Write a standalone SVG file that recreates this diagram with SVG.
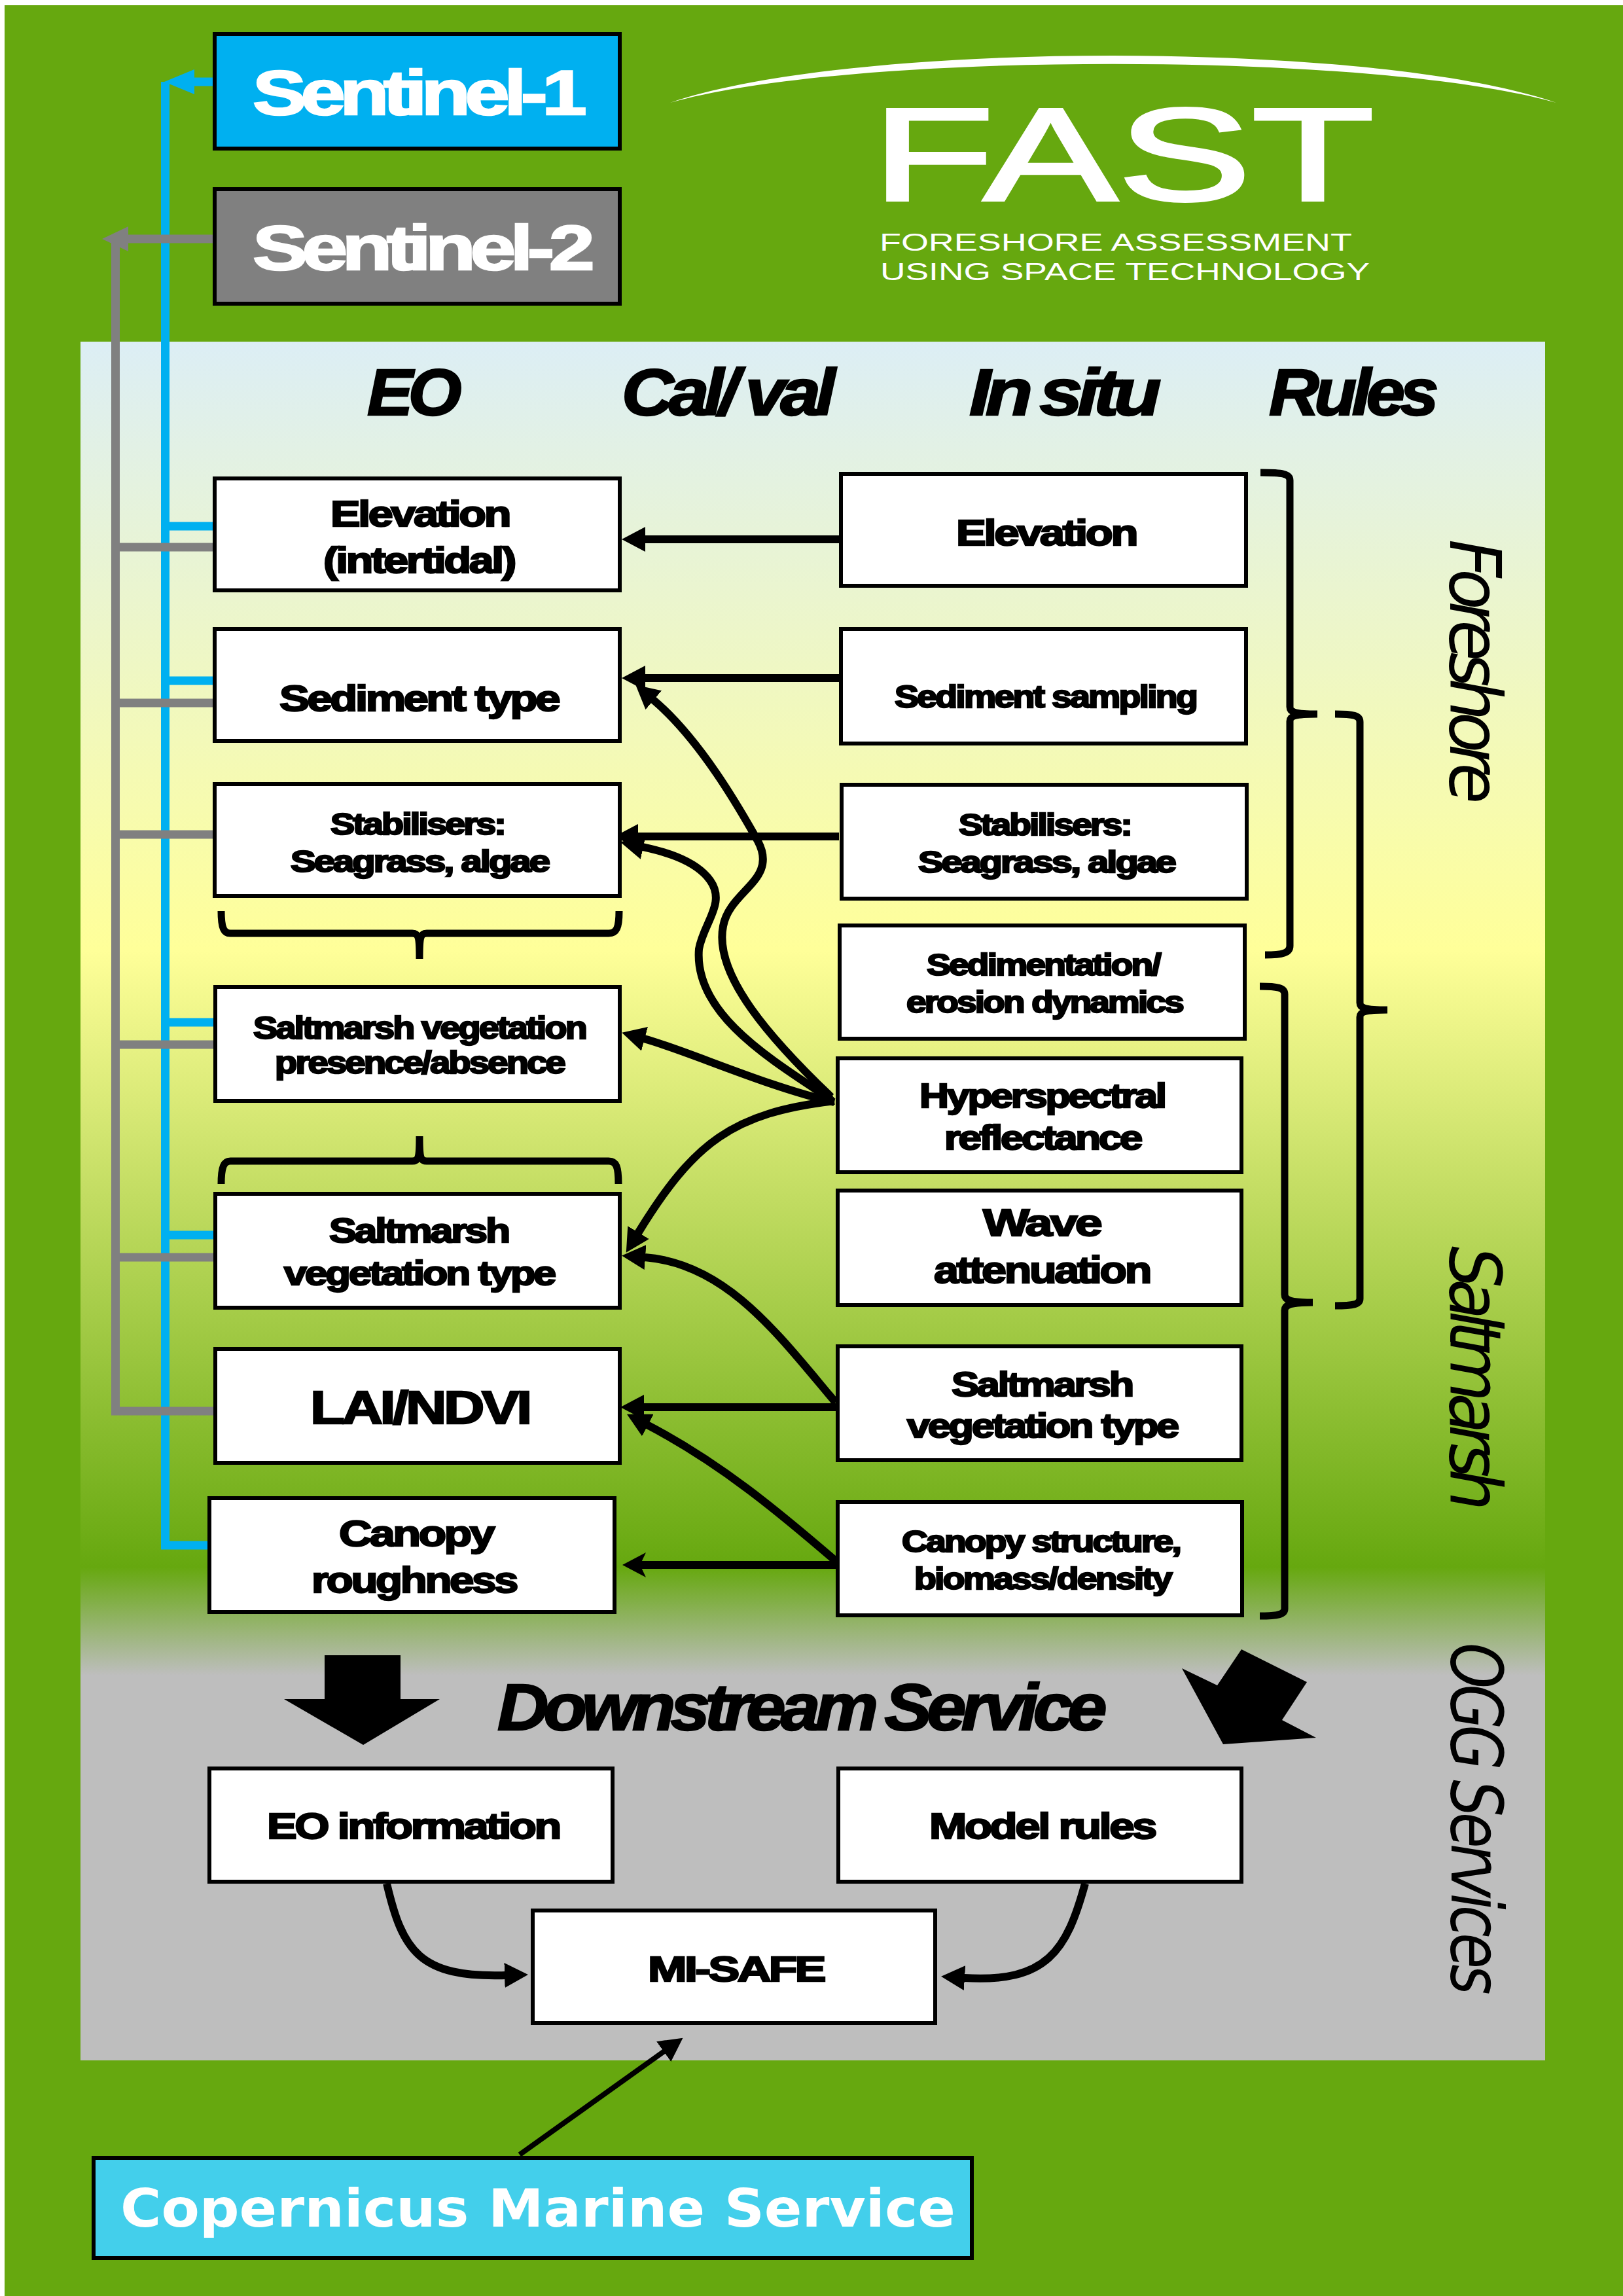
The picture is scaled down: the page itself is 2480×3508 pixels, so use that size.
<svg xmlns="http://www.w3.org/2000/svg" width="2480" height="3508" viewBox="0 0 2480 3508">
<style>
.box{fill:#fff;stroke:#000;stroke-width:6}
text{font-family:"Liberation Sans",Arial,sans-serif;font-weight:700;fill:#000}
.heavy{stroke:#000;stroke-width:2.4;letter-spacing:-0.05em}
.hdr{font-size:100px;font-style:italic;stroke:#000;stroke-width:2.5;letter-spacing:-0.07em;word-spacing:-0.05em}
.white{fill:#fff;stroke:#fff;stroke-width:2.5;letter-spacing:-0.07em}
.side{font-family:"DejaVu Sans",sans-serif;font-weight:400;font-size:108px;font-style:italic}
.arrow{fill:none;stroke:#000;stroke-width:12}
.blue{fill:none;stroke:#00b0f0;stroke-width:13}
.gray{fill:none;stroke:#808080;stroke-width:13}
.brace{fill:none;stroke:#000;stroke-width:11}
.logo{font-weight:400;fill:#fff}
</style>
<defs>
<linearGradient id="panelFill" gradientUnits="userSpaceOnUse" x1="0" y1="522" x2="0" y2="3148">
<stop offset="0" stop-color="#dceef5"/>
<stop offset="0.354" stop-color="#ffff99"/>
<stop offset="0.713" stop-color="#66a80f"/>
<stop offset="0.776" stop-color="#bebebe"/>
<stop offset="1" stop-color="#bebebe"/>
</linearGradient>
<marker id="head" markerUnits="userSpaceOnUse" markerWidth="36" markerHeight="38" viewBox="0 -19 36 38" refX="1" refY="0" orient="auto"><path d="M0,-19L36,0L0,19z"/></marker>
<marker id="headC" markerUnits="userSpaceOnUse" markerWidth="36" markerHeight="38" viewBox="0 -19 36 38" refX="9" refY="0" orient="auto"><path d="M0,-19L36,0L0,19L9,0z"/></marker>
<marker id="headB" markerUnits="userSpaceOnUse" markerWidth="46" markerHeight="38" viewBox="0 -19 46 38" refX="1" refY="0" orient="auto"><path d="M0,-19L46,0L0,19z" fill="#00b0f0"/></marker>
<marker id="headG" markerUnits="userSpaceOnUse" markerWidth="40" markerHeight="38" viewBox="0 -19 40 38" refX="1" refY="0" orient="auto"><path d="M0,-19L40,0L0,19z" fill="#808080"/></marker>
</defs>
<rect id="background" x="7" y="8" width="2473" height="3500" fill="#66a80f"/>
<rect id="panel" x="123" y="522" width="2238" height="2626" fill="url(#panelFill)"/>

<g id="logo">
<path d="M1024,157C1300,61 2100,61 2378,157C2100,78 1300,78 1024,157z" fill="#fff"/>
<text class="logo" x="1332" y="306" font-size="202" textLength="768" lengthAdjust="spacingAndGlyphs" style="stroke:#fff;stroke-width:4">FAST</text>
<text class="logo" x="1344" y="383" font-size="36" textLength="722" lengthAdjust="spacingAndGlyphs">FORESHORE ASSESSMENT</text>
<text class="logo" x="1345" y="428" font-size="36" textLength="748" lengthAdjust="spacingAndGlyphs">USING SPACE TECHNOLOGY</text>
</g>

<g id="headers">
<text class="hdr" x="561" y="634" textLength="137" lengthAdjust="spacingAndGlyphs">EO</text>
<text class="hdr" x="950" y="634" textLength="319" lengthAdjust="spacingAndGlyphs">Cal/ val</text>
<text class="hdr" x="1481" y="634" textLength="285" lengthAdjust="spacingAndGlyphs">In situ</text>
<text class="hdr" x="1939" y="634" textLength="252" lengthAdjust="spacingAndGlyphs">Rules</text>
<text class="hdr" x="760" y="2643" font-size="95" textLength="924" lengthAdjust="spacingAndGlyphs">Downstream Service</text>
</g>

<g id="connectors">
<path class="blue" d="M252.500,2361V125"/>
<path class="blue" d="M325,125H296" marker-end="url(#headB)"/>
<path class="blue" d="M258,804H326M258,1040H326M258,1562H326M258,1887H326M246,2361H317"/>
<path class="gray" d="M176.500,2162V370"/>
<path class="gray" d="M325,365H195" marker-end="url(#headG)"/>
<path class="gray" d="M170,836H326M170,1074H326M170,1275H326M170,1596H326M170,1921H326M170,2156H326"/>
<path class="arrow" d="M1282,824H985" marker-end="url(#head)"/>
<path class="arrow" d="M1282,1036H985" marker-end="url(#head)"/>
<path class="arrow" d="M1282,1278H974" marker-end="url(#head)"/>
<path class="arrow" d="M1270,1676C1180,1590 1090,1490 1105,1415C1115,1360 1190,1345 1158,1285C1130,1235 1070,1130 998,1069" marker-end="url(#head)"/>
<path class="arrow" d="M1270,1680C1180,1620 1060,1550 1068,1450C1075,1410 1110,1380 1085,1345C1060,1310 1000,1298 982,1294" marker-end="url(#head)"/>
<path class="arrow" d="M1275,1684C1170,1660 1050,1605 984,1587" marker-end="url(#head)"/>
<path class="arrow" d="M1275,1682C1120,1700 1060,1745 975,1884" marker-end="url(#head)"/>
<path class="arrow" d="M1277,2143C1190,2040 1110,1930 985,1921" marker-end="url(#head)"/>
<path class="arrow" d="M1277,2150H983" marker-end="url(#head)"/>
<path class="arrow" d="M1277,2385C1190,2310 1100,2235 989,2177" marker-end="url(#head)"/>
<path class="arrow" d="M1277,2391H978" marker-end="url(#headC)"/>
<path class="arrow" d="M591,2878C615,2980 640,3022 772,3018" marker-end="url(#head)"/>
<path class="arrow" d="M1658,2878C1630,2980 1600,3030 1473,3022" marker-end="url(#head)"/>
<path class="arrow" style="stroke-width:8" d="M794,3292L1015,3134" marker-end="url(#head)"/>
<path class="brace" d="M338,1392C338,1418 342,1426 352,1426H630C640,1426 641,1432 641,1465C641,1432 642,1426 652,1426H930C942,1426 946,1418 946,1392"/>
<path class="brace" d="M338,1809C338,1783 342,1774 352,1774H630C640,1774 641,1768 641,1736C641,1768 642,1774 652,1774H930C942,1774 945,1783 945,1809"/>
<path class="brace" d="M1926,722C1960,722 1971,724 1971,734V1080C1971,1088 1978,1091 2013,1091C1978,1091 1971,1094 1971,1102V1445C1971,1456 1960,1459 1933,1459"/>
<path class="brace" d="M1925,1507C1952,1507 1963,1509 1963,1519V1978C1963,1986 1970,1990 2006,1990C1970,1990 1963,1994 1963,2002V2458C1963,2467 1952,2469 1925,2469"/>
<path class="brace" d="M2040,1091C2068,1091 2078,1093 2078,1103V1532C2078,1540 2085,1543 2120,1543C2085,1543 2078,1546 2078,1554V1984C2078,1993 2068,1995 2040,1995"/>
<path d="M496,2529H612V2596H672L555,2666L434,2596H496z"/>
<path d="M1897,2520L1997,2570L1959,2628L2011,2655L1869,2665L1806,2549L1860,2575z"/>
</g>

<g id="sentinel-1"><rect x="328" y="52" width="619" height="175" fill="#00b0f0" stroke="#000" stroke-width="6"/><text class="white" x="386" y="175" font-size="96" textLength="502" lengthAdjust="spacingAndGlyphs">Sentinel-1</text></g>
<g id="sentinel-2"><rect x="328" y="289" width="619" height="175" fill="#808080" stroke="#000" stroke-width="6"/><text class="white" x="386" y="412" font-size="96" textLength="514" lengthAdjust="spacingAndGlyphs">Sentinel-2</text></g>

<g id="eo-elevation"><rect class="box" x="328" y="731" width="619" height="171"/><text class="heavy" x="505" y="804" font-size="56" textLength="273" lengthAdjust="spacingAndGlyphs">Elevation</text><text class="heavy" x="494" y="875" font-size="56" textLength="292" lengthAdjust="spacingAndGlyphs">(intertidal)</text></g>
<g id="eo-sediment"><rect class="box" x="328" y="961" width="619" height="171"/><text class="heavy" x="427" y="1086" font-size="56" textLength="426" lengthAdjust="spacingAndGlyphs">Sediment type</text></g>
<g id="eo-stabilisers"><rect class="box" x="328" y="1198" width="619" height="171"/><text class="heavy" x="505" y="1275" font-size="46" textLength="266" lengthAdjust="spacingAndGlyphs">Stabilisers:</text><text class="heavy" x="444" y="1332" font-size="46" textLength="394" lengthAdjust="spacingAndGlyphs">Seagrass, algae</text></g>
<g id="eo-presence"><rect class="box" x="329" y="1508" width="618" height="174"/><text class="heavy" x="387" y="1587" font-size="48" textLength="508" lengthAdjust="spacingAndGlyphs">Saltmarsh vegetation</text><text class="heavy" x="420" y="1640" font-size="48" textLength="442" lengthAdjust="spacingAndGlyphs">presence/absence</text></g>
<g id="eo-type"><rect class="box" x="329" y="1824" width="618" height="174"/><text class="heavy" x="503" y="1898" font-size="52" textLength="274" lengthAdjust="spacingAndGlyphs">Saltmarsh</text><text class="heavy" x="434" y="1963" font-size="52" textLength="413" lengthAdjust="spacingAndGlyphs">vegetation type</text></g>
<g id="eo-lai"><rect class="box" x="329" y="2061" width="618" height="174"/><text class="heavy" x="474" y="2175" font-size="70" textLength="335" lengthAdjust="spacingAndGlyphs">LAI/NDVI</text></g>
<g id="eo-canopy"><rect class="box" x="320" y="2289" width="619" height="174"/><text class="heavy" x="518" y="2362" font-size="56" textLength="235" lengthAdjust="spacingAndGlyphs">Canopy</text><text class="heavy" x="476" y="2433" font-size="56" textLength="313" lengthAdjust="spacingAndGlyphs">roughness</text></g>

<g id="is-elevation"><rect class="box" x="1285" y="724" width="619" height="171"/><text class="heavy" x="1461" y="833" font-size="56" textLength="275" lengthAdjust="spacingAndGlyphs">Elevation</text></g>
<g id="is-sediment"><rect class="box" x="1285" y="961" width="619" height="175"/><text class="heavy" x="1367" y="1081" font-size="48" textLength="461" lengthAdjust="spacingAndGlyphs">Sediment sampling</text></g>
<g id="is-stabilisers"><rect class="box" x="1286" y="1199" width="619" height="174"/><text class="heavy" x="1465" y="1276" font-size="46" textLength="263" lengthAdjust="spacingAndGlyphs">Stabilisers:</text><text class="heavy" x="1403" y="1333" font-size="46" textLength="392" lengthAdjust="spacingAndGlyphs">Seagrass, algae</text></g>
<g id="is-dynamics"><rect class="box" x="1283" y="1414" width="619" height="173"/><text class="heavy" x="1416" y="1490" font-size="46" textLength="356" lengthAdjust="spacingAndGlyphs">Sedimentation/</text><text class="heavy" x="1385" y="1547" font-size="46" textLength="422" lengthAdjust="spacingAndGlyphs">erosion dynamics</text></g>
<g id="is-hyper"><rect class="box" x="1280" y="1617" width="617" height="174"/><text class="heavy" x="1405" y="1692" font-size="52" textLength="375" lengthAdjust="spacingAndGlyphs">Hyperspectral</text><text class="heavy" x="1443" y="1756" font-size="52" textLength="300" lengthAdjust="spacingAndGlyphs">reflectance</text></g>
<g id="is-wave"><rect class="box" x="1280" y="1819" width="617" height="175"/><text class="heavy" x="1502" y="1888" font-size="58" textLength="179" lengthAdjust="spacingAndGlyphs">Wave</text><text class="heavy" x="1427" y="1960" font-size="58" textLength="330" lengthAdjust="spacingAndGlyphs">attenuation</text></g>
<g id="is-type"><rect class="box" x="1280" y="2057" width="617" height="174"/><text class="heavy" x="1454" y="2133" font-size="52" textLength="276" lengthAdjust="spacingAndGlyphs">Saltmarsh</text><text class="heavy" x="1386" y="2196" font-size="52" textLength="413" lengthAdjust="spacingAndGlyphs">vegetation type</text></g>
<g id="is-canopy"><rect class="box" x="1280" y="2295" width="618" height="173"/><text class="heavy" x="1378" y="2371" font-size="46" textLength="425" lengthAdjust="spacingAndGlyphs">Canopy structure,</text><text class="heavy" x="1397" y="2428" font-size="46" textLength="392" lengthAdjust="spacingAndGlyphs">biomass/density</text></g>

<g id="eo-information"><rect class="box" x="320" y="2702" width="616" height="173"/><text class="heavy" x="408" y="2809" font-size="56" textLength="447" lengthAdjust="spacingAndGlyphs">EO information</text></g>
<g id="model-rules"><rect class="box" x="1281" y="2702" width="616" height="173"/><text class="heavy" x="1420" y="2809" font-size="56" textLength="345" lengthAdjust="spacingAndGlyphs">Model rules</text></g>
<g id="mi-safe"><rect class="box" x="814" y="2919" width="615" height="172"/><text class="heavy" x="990" y="3027" font-size="54" textLength="269" lengthAdjust="spacingAndGlyphs">MI-SAFE</text></g>
<g id="copernicus"><rect x="143" y="3297" width="1342" height="153" fill="#43cfeb" stroke="#000" stroke-width="6"/><text x="184" y="3402" font-size="81" textLength="1276" lengthAdjust="spacingAndGlyphs" style="font-family:'DejaVu Sans',sans-serif;fill:#fff">Copernicus Marine Service</text></g>

<g id="side-labels">
<text class="side" transform="translate(2216,824) rotate(90)" style="letter-spacing:-14px" textLength="391" lengthAdjust="spacingAndGlyphs">Foreshore</text>
<text class="side" transform="translate(2216,1904) rotate(90)" style="letter-spacing:-14px" textLength="391" lengthAdjust="spacingAndGlyphs">Saltmarsh</text>
<text class="side" transform="translate(2218,2510) rotate(90)" style="letter-spacing:-8px" textLength="531" lengthAdjust="spacingAndGlyphs">OGG Services</text>
</g>
</svg>
